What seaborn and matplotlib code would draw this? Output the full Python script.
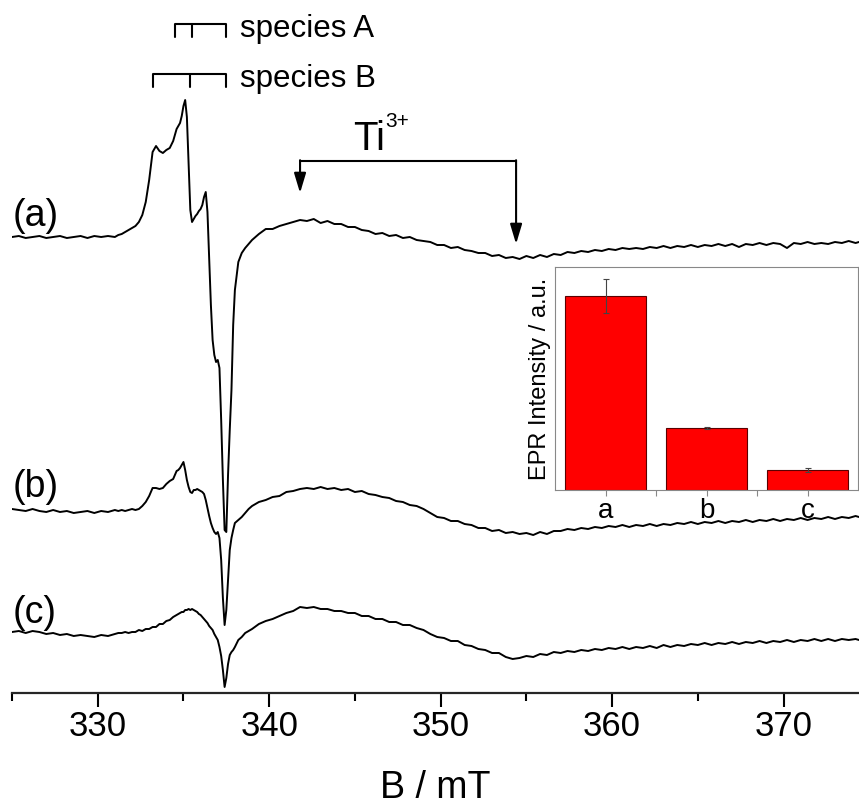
import numpy as np
import pandas as pd
import matplotlib
matplotlib.use("Agg")
from matplotlib import pyplot as plt
from matplotlib.ticker import MultipleLocator
import seaborn as sns

# Magnetic field axis (mT)
field_mT = [
    325.0, 325.4, 325.8, 326.2, 326.6, 327.0, 327.4, 327.8, 328.2, 328.6,
    329.0, 329.4, 329.8, 330.2, 330.6, 331.0,
    331.2, 331.4, 331.6, 331.8, 332.0, 332.2, 332.4, 332.6, 332.8, 333.0,
    333.2, 333.4, 333.6, 333.8, 334.0, 334.2, 334.4, 334.6,
    334.7, 334.8, 334.9, 335.0, 335.1, 335.2, 335.3, 335.4, 335.5, 335.6,
    335.7, 335.8, 335.9, 336.0, 336.1, 336.2, 336.3, 336.4, 336.5, 336.6,
    336.7, 336.8, 336.9, 337.0, 337.1, 337.2, 337.3, 337.4, 337.5, 337.6,
    337.7, 337.8, 337.9, 338.0,
    338.2, 338.4, 338.6, 338.8, 339.0,
    339.4, 339.8, 340.2, 340.6, 341.0, 341.4, 341.8, 342.2, 342.6, 343.0,
    343.4, 343.8, 344.2, 344.6, 345.0, 345.4, 345.8, 346.2, 346.6, 347.0,
    347.4, 347.8, 348.2, 348.6, 349.0, 349.4, 349.8, 350.2, 350.6, 351.0,
    351.4, 351.8, 352.2, 352.6, 353.0, 353.4, 353.8, 354.2, 354.6, 355.0,
    355.4, 355.8, 356.2, 356.6, 357.0, 357.4, 357.8, 358.2, 358.6, 359.0,
    359.4, 359.8, 360.2, 360.6, 361.0, 361.4, 361.8, 362.2, 362.6, 363.0,
    363.4, 363.8, 364.2, 364.6, 365.0, 365.4, 365.8, 366.2, 366.6, 367.0,
    367.4, 367.8, 368.2, 368.6, 369.0, 369.4, 369.8, 370.2, 370.6, 371.0,
    371.4, 371.8, 372.2, 372.6, 373.0, 373.4, 373.8, 374.2, 374.4,
]

# EPR signals (a.u., relative to each baseline)
spec_a = [
    0, 1, -1, 0, 1, -1, 0, 1, -1, 0, 1, -1, 1, 0, 1, 0,
    2, 3, 5, 7, 9, 11, 15, 22, 35, 57, 85, 91, 86, 84, 87, 89, 96, 108,
    111, 114, 121, 131, 137, 120, 72, 27, 15, 18, 21, 23, 26, 28, 32, 40,
    45, 25, -23, -68, -103, -118, -125, -123, -131, -183, -243, -293, -295, -238,
    -193, -153, -88, -53,
    -25, -16, -11, -7, -3,
    3, 8, 8, 11, 13, 15, 17, 16, 18, 14,
    16, 13, 13, 10, 10, 7, 6, 3, 4, 1,
    2, -1, 0, -3, -4, -5, -8, -8, -11, -10,
    -13, -14, -16, -16, -19, -18, -21, -20, -22, -19,
    -21, -18, -20, -17, -18, -15, -16, -14, -15, -13,
    -14, -12, -13, -11, -12, -11, -12, -10, -11, -9,
    -11, -9, -10, -8, -10, -8, -9, -7, -9, -7,
    -10, -7, -8, -6, -8, -6, -7, -11, -6, -7,
    -5, -7, -6, -7, -5, -6, -4, -6, -5,
]
spec_b = [
    1, 0, -1, 1, -1, -2, 0, -2, -1, -3, -2, -1, -3, -1, -2, 0,
    -1, 0, -1, 0, 1, 0, 1, 4, 8, 14, 22, 22, 21, 22, 26, 29, 31, 39,
    40, 42, 45, 48, 40, 30, 23, 18, 17, 20, 20, 21, 20, 19, 18, 16,
    10, 2, -6, -13, -18, -22, -24, -22, -28, -50, -88, -115, -100, -70,
    -40, -28, -20, -13,
    -10, -7, -3, 1, 4,
    8, 10, 13, 14, 18, 19, 21, 22, 21, 23,
    21, 22, 20, 21, 18, 19, 16, 15, 13, 12,
    9, 8, 5, 4, 1, -3, -7, -8, -11, -11,
    -14, -15, -18, -18, -21, -20, -23, -22, -24, -23,
    -25, -22, -24, -21, -21, -19, -20, -18, -19, -17,
    -18, -16, -17, -15, -17, -15, -16, -14, -16, -14,
    -15, -13, -14, -12, -14, -12, -13, -11, -13, -11,
    -12, -10, -12, -10, -11, -9, -11, -9, -10, -8,
    -10, -8, -9, -7, -9, -7, -8, -6, -7,
]
spec_c = [
    0, 1, -1, 1, 0, -2, -1, -3, -2, -4, -3, -4, -5, -3, -4, -2,
    -1, -1, 0, -1, 0, 0, 2, 1, 3, 3, 5, 5, 8, 8, 11, 12, 15, 17,
    18, 19, 20, 20, 22, 22, 23, 22, 23, 22, 21, 20, 18, 17, 15, 13,
    11, 9, 6, 4, 2, -2, -5, -8, -15, -24, -38, -55, -46, -32,
    -23, -20, -18, -15,
    -8, -5, -1, 1, 3,
    8, 11, 13, 16, 19, 21, 25, 24, 25, 23,
    23, 21, 21, 19, 19, 16, 16, 13, 13, 10,
    10, 7, 7, 4, 2, -2, -5, -6, -9, -9,
    -13, -14, -17, -18, -21, -21, -25, -27, -26, -24,
    -25, -22, -23, -20, -21, -19, -20, -18, -19, -17,
    -18, -16, -17, -15, -17, -15, -16, -14, -16, -13,
    -15, -13, -14, -12, -13, -11, -13, -11, -12, -10,
    -12, -10, -11, -9, -11, -9, -10, -8, -10, -8,
    -9, -7, -9, -7, -9, -7, -8, -7, -8,
]
sample_labels = ["(a)", "(b)", "(c)"]
offsets = [456, 183, 61]

# hyperfine stick positions (mT)
species_A = [334.5, 335.5, 337.5]
species_B = [333.2, 335.4, 337.5]
ti_positions = [341.8, 354.4]

# inset bar chart
inset_labels = ["a", "b", "c"]
inset_intensity = [100, 32, 10.3]
inset_error = [8.8, 0.5, 0.8]

assert len(field_mT) == len(spec_a) == len(spec_b) == len(spec_c)

sns.set_style("white")
plt.rcParams['font.family'] = ['Liberation Sans', 'DejaVu Sans']
plt.rcParams['text.color'] = 'black'
plt.rcParams['axes.labelcolor'] = 'black'
plt.rcParams['xtick.color'] = 'black'

fig = plt.figure(figsize=(8.59, 8.09), dpi=100)
ax = fig.add_axes([12/859, 116/809, 847/859, 693/809])

for spec, off in zip([spec_a, spec_b, spec_c], offsets):
    df = pd.DataFrame({"B": field_mT, "I": np.array(spec) + off})
    sns.lineplot(data=df, x="B", y="I", color="black", lw=1.4,
                 estimator=None, sort=False, ax=ax)

# sample labels
for lab, y in zip(sample_labels, [477, 206, 80]):
    ax.text(325.05, y, lab, fontsize=27, va="center", ha="left")

# species sticks
for pos, y0, name in [(species_A, 669, "species A"), (species_B, 619, "species B")]:
    ax.plot([min(pos), max(pos)], [y0, y0], color="black", lw=1.5, solid_capstyle="butt")
    for x in pos:
        ax.plot([x, x], [y0 - 13, y0], color="black", lw=1.5)
    ax.text(338.3, y0 - 13, name, fontsize=22.5, ha="left", va="baseline")

# Ti3+ arrows
ax.plot(ti_positions, [532, 532], color="black", lw=1.5)
for x, tip in zip(ti_positions, [500, 449]):
    ax.annotate("", xy=(x, tip), xytext=(x, 532.8),
                arrowprops=dict(arrowstyle="-|>,head_length=0.6,head_width=0.18",
                                color="black", lw=1.5, mutation_scale=20,
                                shrinkA=0, shrinkB=0))
ax.text(344.9, 543, "Ti", fontsize=29, ha="left", va="baseline")
ax.text(346.75, 566, "3+", fontsize=15, ha="left", va="baseline")

ax.set_xlim(325, 374.4)
ax.set_ylim(0, 693)
ax.set_yticks([])
ax.set_ylabel("")
for s in ["left", "top", "right"]:
    ax.spines[s].set_visible(False)
ax.spines["bottom"].set_linewidth(1.6)
ax.set_xticks([330, 340, 350, 360, 370])
ax.xaxis.set_minor_locator(MultipleLocator(5))
ax.tick_params(axis="x", which="major", direction="out", length=10, width=1.5,
               labelsize=25, pad=2, bottom=True)
ax.tick_params(axis="x", which="minor", direction="out", length=6, width=1.5, bottom=True)
ax.set_xlabel("B / mT", fontsize=27, labelpad=20)

# inset
axin = fig.add_axes([555/859, 1 - 490/809, 303/859, 223/809])
sns.barplot(x=inset_labels, y=inset_intensity, color="red", saturation=1,
            edgecolor="#5a0000", linewidth=0.8, width=0.8, ax=axin)
axin.errorbar([0, 1, 2], inset_intensity, yerr=inset_error, fmt="none",
              ecolor="#444444", elinewidth=0.8, capsize=2.5, capthick=0.8)
axin.set_xlim(-0.5, 2.5)
axin.set_ylim(0, 115)
axin.set_yticks([])
axin.set_xticks([0.5, 1.5], minor=True)
for s in axin.spines.values():
    s.set_color("#888888")
    s.set_linewidth(0.8)
axin.tick_params(axis="x", which="both", direction="out", length=4, width=0.8,
                 color="#888888", labelcolor="black", labelsize=20, pad=2, bottom=True)
axin.set_xlabel("")
axin.set_ylabel("EPR Intensity / a.u.", fontsize=17, labelpad=3)

fig.savefig("out.png", dpi=100)
